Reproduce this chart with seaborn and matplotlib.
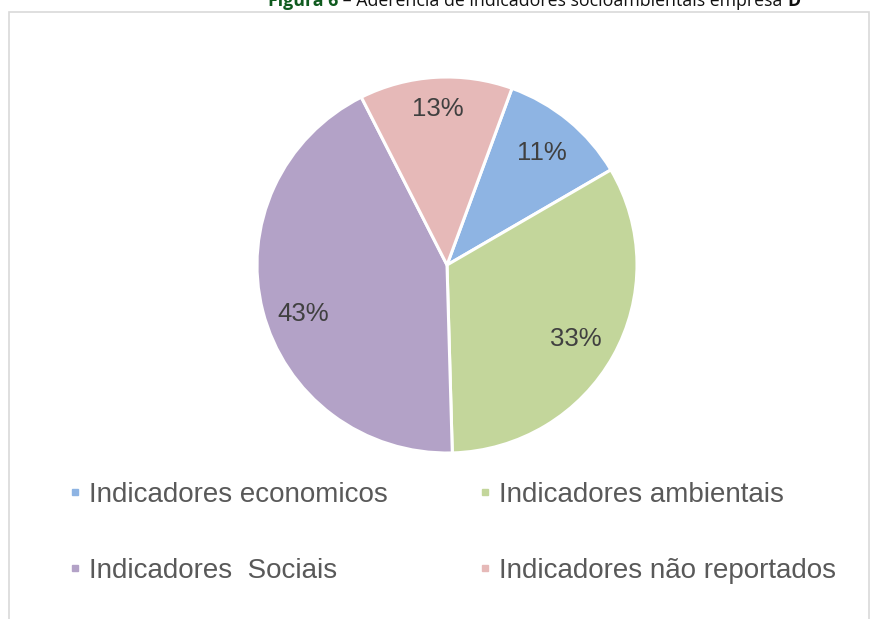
import matplotlib
matplotlib.use("Agg")
import matplotlib.pyplot as plt
import seaborn as sns
import numpy as np
from matplotlib.lines import Line2D
from matplotlib.patches import Rectangle

# ---- data ----
categories = ["Indicadores economicos", "Indicadores ambientais",
              "Indicadores  Sociais", "Indicadores não reportados"]
values = [11, 33, 43, 13]
colors = ["#8EB4E3", "#C3D69B", "#B3A2C7", "#E6B9B8"]

sns.set_theme(style="white")
plt.rcParams['font.family'] = ['Liberation Sans', 'DejaVu Sans']

W, H = 871, 619
fig = plt.figure(figsize=(W / 100, H / 100), dpi=100)
fig.patch.set_facecolor("white")

# chart frame
fig.patches.append(Rectangle((8.5 / W, -0.1), 860 / W, 1.1 - 12.5 / H,
                             transform=fig.transFigure, fill=False,
                             edgecolor="#D9D9D9", lw=1.2))

# pie
cx, cy, rx, ry = 447, 265, 190, 188
ax = fig.add_axes([(cx - rx) / W, (H - cy - ry) / H, 2 * rx / W, 2 * ry / H])
palette = sns.color_palette(colors)
wedges, _t, autotexts = ax.pie(values, colors=palette, startangle=70,
                               counterclock=False, autopct='%1.0f%%',
                               pctdistance=0.8,
                               wedgeprops=dict(edgecolor="white", linewidth=2.2),
                               textprops=dict(fontsize=18.5, color="#404040"))
# per-label placement tweaks
label_scale = [0.97, 0.98, 1.0, 1.04]
label_rot = [0, 1, -5, 0]  # degrees (clockwise positive)
for t, s, rot in zip(autotexts, label_scale, label_rot):
    x, y = t.get_position()
    a = np.deg2rad(-rot)
    x2 = (x * np.cos(a) - y * np.sin(a)) * s
    y2 = (x * np.sin(a) + y * np.cos(a)) * s
    t.set_position((x2, y2))
ax.set_xlim(-1, 1)
ax.set_ylim(-1, 1)
ax.set_aspect('auto')
ax.axis('off')

# legend
handles = [Line2D([], [], marker='s', linestyle='none', markersize=5,
                  markerfacecolor=c, markeredgecolor=c) for c in palette]
order = [0, 2, 1, 3]
leg = fig.legend([handles[i] for i in order], [categories[i] for i in order],
                 ncol=2, loc='upper left', bbox_to_anchor=(70.5 / W, 1 - 482 / H),
                 frameon=False, fontsize=20, handlelength=0.3,
                 handletextpad=0.36, columnspacing=3.35, labelspacing=1.79,
                 borderpad=0, borderaxespad=0)
for t in leg.get_texts():
    t.set_color("#595959")

# title (clipped at top, as in the source image)
green = "#0E5A1E"
fig.canvas.draw()
rend = fig.canvas.get_renderer()
fs = 15
base_y = 1 - 6.5 / H
parts = [("Figura 6", "bold", green),
         (" – Aderência de indicadores socioambientais empresa ", "normal", "#111111"),
         ("D", "bold", "#111111")]
texts = []
for s, w, c in parts:
    t = fig.text(0, base_y, s, fontsize=fs, fontweight=w, color=c,
                 family=['Open Sans', 'DejaVu Sans'], va='baseline', ha='left')
    texts.append(t)
widths = [t.get_window_extent(rend).width for t in texts]
scale = 532 / sum(widths)
for t in texts:
    t.set_fontsize(fs * scale)
widths = [t.get_window_extent(rend).width for t in texts]
x = 268
for t, wd in zip(texts, widths):
    t.set_x(x / W)
    x += wd

fig.savefig("out.png", dpi=100, facecolor="white")
